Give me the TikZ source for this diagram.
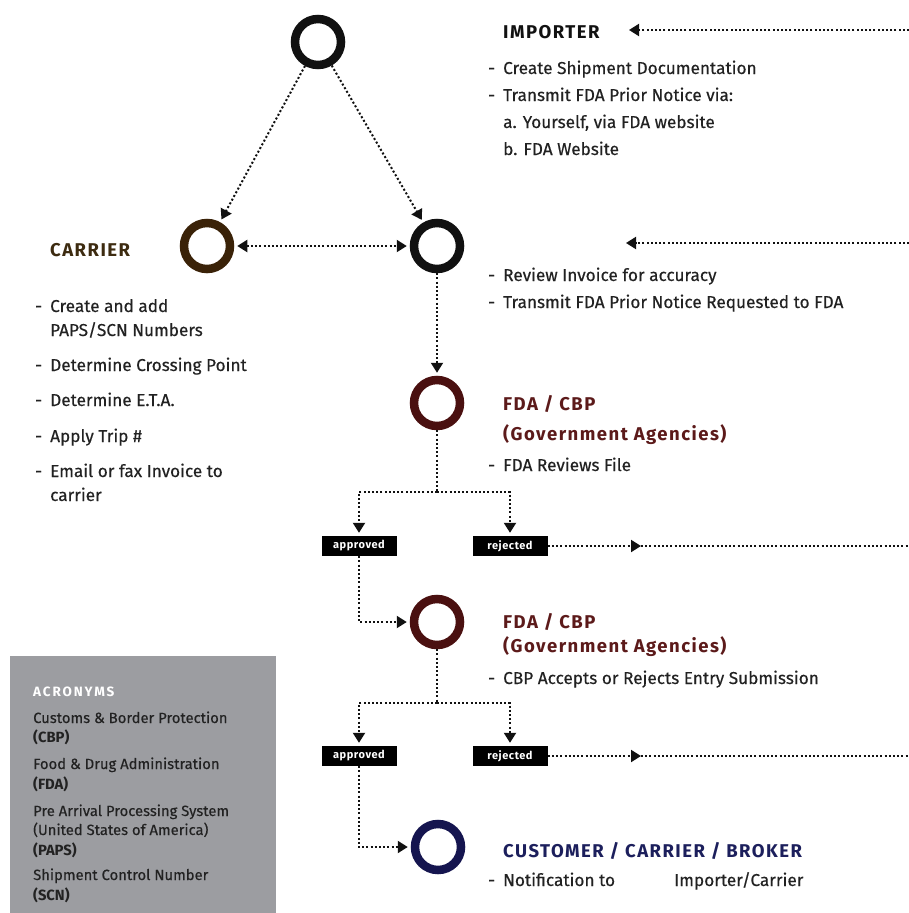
\documentclass[tikz,border=0pt]{standalone}
\usepackage{fontspec}
\setmainfont{Fira Sans}[FakeBold=0.35]
\newfontfamily\hfont[LetterSpace=8]{Fira Sans}
\newfontfamily\afont[LetterSpace=14]{Fira Sans}
\newfontfamily\lfont[LetterSpace=5]{Fira Sans}
\usetikzlibrary{arrows.meta}
\definecolor{cblack}{HTML}{111111}
\definecolor{cbrown}{HTML}{3A2208}
\definecolor{tbrown}{HTML}{3D2B10}
\definecolor{cred}{HTML}{4A1010}
\definecolor{tred}{HTML}{5C1A1A}
\definecolor{cnavy}{HTML}{15154F}
\definecolor{tnavy}{HTML}{1C1F5C}
\definecolor{boxgray}{HTML}{9C9DA1}
\definecolor{body}{HTML}{222222}
\definecolor{abody}{HTML}{222222}
\begin{document}
\begin{tikzpicture}[x=1pt,y=-1pt,
  ring/.style={circle, line width=8.5pt, minimum size=46pt, inner sep=0pt},
  dl/.style={line width=2pt, dash pattern=on 2pt off 2.2pt, draw=cblack},
  tipr/.style={-{Triangle[length=10pt,width=12pt]}, shorten >=3pt},
  tipb/.style={{Triangle[length=10pt,width=12pt]}-{Triangle[length=10pt,width=12pt]}, shorten >=3pt, shorten <=3pt},
  lab/.style={fill=black, text=white, minimum width=75pt, minimum height=20pt, inner sep=0pt, font=\lfont\bfseries\fontsize{11}{12}\selectfont},
  txt/.style={anchor=base west, inner sep=0pt, text=body, font=\fontsize{17.2}{20}\selectfont},
  head/.style={anchor=base west, inner sep=0pt, font=\hfont\bfseries\fontsize{18.5}{20}\selectfont},
  atxt/.style={anchor=base west, inner sep=0pt, text=abody, font=\fontsize{14.8}{16}\selectfont},
  abold/.style={atxt, font=\afont\bfseries\fontsize{14.8}{16}\selectfont\addfontfeatures{LetterSpace=0}}
]
\useasboundingbox (0,0) rectangle (909,913);
\fill[white] (0,0) rectangle (909,913);

% acronym box
\fill[boxgray] (10,656) rectangle (276,913);
\node[anchor=base west, inner sep=0pt, text=white, font=\afont\bfseries\fontsize{13.5}{14}\selectfont] (acr) at (33,696) {ACRONYMS};
\node[atxt] (a1) at (33,723) {Customs \& Border Protection};
\node[abold] (a2) at (33,742) {(CBP)};
\node[atxt] (a3) at (33,769) {Food \& Drug Administration};
\node[abold] (a4) at (33,789) {(FDA)};
\node[atxt] (a5) at (33,816) {Pre Arrival Processing System};
\node[atxt] (a6) at (33,835) {(United States of America)};
\node[abold] (a7) at (33,855) {(PAPS)};
\node[atxt] (a8) at (33,880) {Shipment Control Number};
\node[abold] (a9) at (33,900) {(SCN)};

% circles
\node[ring, draw=cblack] (imp) at (318,42) {};
\node[ring, draw=cbrown] (car) at (207,246) {};
\node[ring, draw=cblack] (rev) at (437,246) {};
\node[ring, draw=cred] (fda1) at (437,403) {};
\node[ring, draw=cred] (fda2) at (437,622) {};
\node[ring, draw=cnavy] (cust) at (438,847) {};

% decision labels
\node[lab] (ap1) at (359,546) {approved};
\node[lab] (rj1) at (510,546) {rejected};
\node[lab] (ap2) at (359,756) {approved};
\node[lab] (rj2) at (510,756) {rejected};

% connectors
\draw[dl, tipr] (imp) -- (car);
\draw[dl, tipr] (imp) -- (rev);
\draw[dl, tipb] (car) -- (rev);
\draw[dl, tipr] (rev) -- (fda1);
\coordinate (j1) at (437,492);
\draw[dl] (fda1) -- (j1);
\draw[dl, tipr] (j1) -| (ap1);
\draw[dl, tipr] (j1) -| (rj1);
\draw[dl, tipr] (ap1) |- (fda2);
\coordinate (m1) at (641,546);
\coordinate (e1) at (909,546);
\draw[dl, tipr, shorten >=0pt] (rj1) -- (m1);
\draw[dl] (m1) -- (e1);
\coordinate (j2) at (437,703);
\draw[dl] (fda2) -- (j2);
\draw[dl, tipr] (j2) -| (ap2);
\draw[dl, tipr] (j2) -| (rj2);
\draw[dl, tipr] (ap2) |- (cust);
\coordinate (m2) at (641,756);
\coordinate (e2) at (909,756);
\draw[dl, tipr, shorten >=0pt] (rj2) -- (m2);
\draw[dl] (m2) -- (e2);

% incoming arrows on the right
\coordinate (r1s) at (909,30);
\coordinate (r1e) at (629,30);
\draw[dl, tipr, shorten >=0pt] (r1s) -- (r1e);
\coordinate (r2s) at (909,243);
\coordinate (r2e) at (626,243);
\draw[dl, tipr, shorten >=0pt] (r2s) -- (r2e);

% importer text
\node[head, text=cblack] (impt) at (503,38) {IMPORTER};
\node[txt] (i1) at (488,74) {\makebox[15pt][l]{-}Create Shipment Documentation};
\node[txt] (i2) at (488,101) {\makebox[15pt][l]{-}Transmit FDA Prior Notice via:};
\node[txt] (i3) at (503,128) {a. Yourself, via FDA website};
\node[txt] (i4) at (503,155) {b. FDA Website};

% review text
\node[txt] (r1) at (488,281) {\makebox[15pt][l]{-}Review Invoice for accuracy};
\node[txt] (r2) at (488,308) {\makebox[15pt][l]{-}Transmit FDA Prior Notice Requested to FDA};

% carrier text
\node[head, text=tbrown] (cart) at (50,256) {CARRIER};
\node[txt] (c1) at (35,312) {\makebox[15pt][l]{-}Create and add};
\node[txt] (c2) at (50,336) {PAPS/SCN Numbers};
\node[txt] (c3) at (35,371) {\makebox[15pt][l]{-}Determine Crossing Point};
\node[txt] (c4) at (35,406) {\makebox[15pt][l]{-}Determine E.T.A.};
\node[txt] (c5) at (35,442) {\makebox[15pt][l]{-}Apply Trip \#};
\node[txt] (c6) at (35,477) {\makebox[15pt][l]{-}Email or fax Invoice to};
\node[txt] (c7) at (50,501) {carrier};

% FDA 1
\node[head, text=tred] (f1a) at (503,410) {FDA / CBP};
\node[head, text=tred] (f1b) at (503,440) {(Government Agencies)};
\node[txt] (f1c) at (488,471) {\makebox[15pt][l]{-}FDA Reviews File};

% FDA 2
\node[head, text=tred] (f2a) at (503,628) {FDA / CBP};
\node[head, text=tred] (f2b) at (503,652) {(Government Agencies)};
\node[txt] (f2c) at (488,684) {\makebox[15pt][l]{-}CBP Accepts or Rejects Entry Submission};

% customer
\node[head, text=tnavy] (cu) at (503,857) {CUSTOMER / CARRIER / BROKER};
\node[txt] (cu1) at (488,886) {\makebox[15pt][l]{-}Notification to};
\node[txt] (cu2) at (674,886) {Importer/Carrier};
\end{tikzpicture}
\end{document}
